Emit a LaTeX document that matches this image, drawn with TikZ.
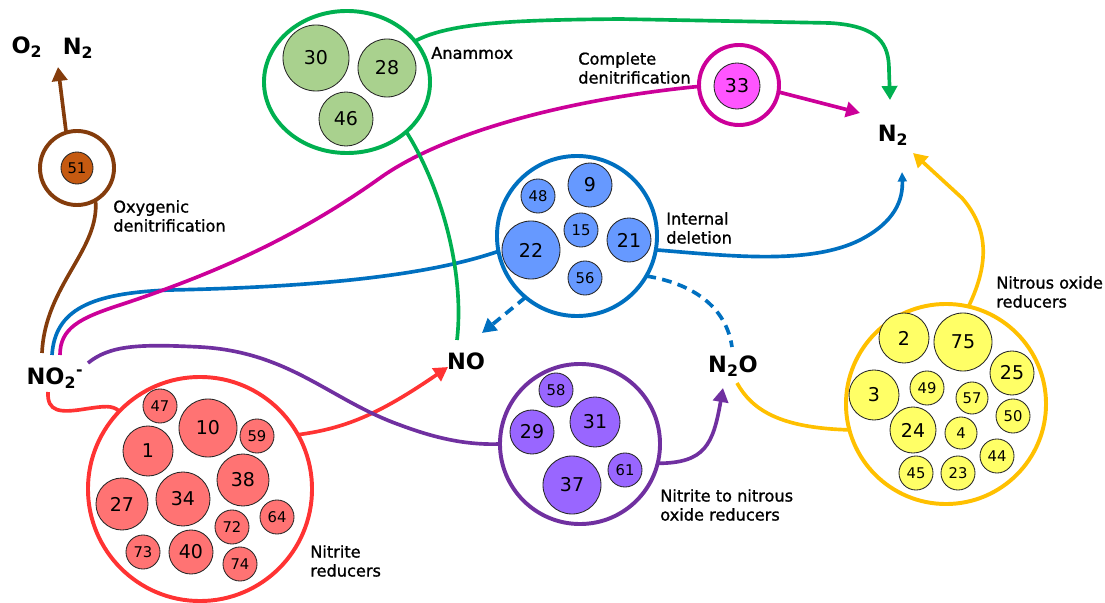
\documentclass[tikz,border=0pt]{standalone}
\usepackage{fontspec}
\setmainfont{DejaVu Sans}
\newfontfamily\lblfont[FakeBold=1.2]{DejaVu Sans}
\usepackage{tikz}
\usetikzlibrary{arrows.meta,calc,shapes.geometric}
\definecolor{BrownLine}{RGB}{132,60,12}
\definecolor{BrownFill}{RGB}{197,90,17}
\definecolor{GreenLine}{RGB}{0,176,80}
\definecolor{GreenFill}{RGB}{169,209,142}
\definecolor{MagLine}{RGB}{204,0,153}
\definecolor{MagFill}{RGB}{255,85,255}
\definecolor{BlueLine}{RGB}{0,112,192}
\definecolor{BlueFill}{RGB}{102,153,255}
\definecolor{RedLine}{RGB}{255,51,51}
\definecolor{RedFill}{RGB}{255,115,115}
\definecolor{PurpleLine}{RGB}{112,48,160}
\definecolor{PurpleFill}{RGB}{153,102,255}
\definecolor{YellowLine}{RGB}{255,192,0}
\definecolor{YellowFill}{RGB}{255,255,102}
\newcommand\numfont[1]{\ifnum#1>19 \fontsize{13.5}{15}\selectfont\else\fontsize{10.5}{12}\selectfont\fi}

\begin{document}
\begin{tikzpicture}[x=0.025cm, y=-0.025cm,
    grp/.style={circle, line width=2.8pt, outer sep=0pt, inner sep=0pt},
    bug/.style={circle, draw=black!85, line width=0.6pt, inner sep=0pt},
    flow/.style={line width=2.6pt},
    tip/.style={-{Triangle[length=3.5mm,width=3.8mm]}},
    dashflow/.style={dash pattern=on 7pt off 4.5pt},
    chem/.style={font=\fontsize{16}{18}\selectfont\bfseries, inner sep=0pt},
    lbl/.style={font=\lblfont\fontsize{11.5}{13.5}\selectfont, align=left, anchor=west, inner sep=0pt}]
  \useasboundingbox (0,0) rectangle (1105,603);

  % species
  \node[chem] (o2) at (27,47) {O\textsubscript{2}};
  \node[chem] (n2a) at (78,48) {N\textsubscript{2}};
  \node[chem] (no2) at (55,378) {NO\textsubscript{2}\textsuperscript{-}};
  \node[chem] (no) at (466,361) {NO};
  \node[chem] (n2o) at (733,366) {N\textsubscript{2}O};
  \node[chem] (n2) at (893,135) {N\textsubscript{2}};

  % guilds
  \node[grp, draw=BrownLine, minimum size=1.85cm] (oxy) at (77,168) {};
  \node[grp, ellipse, draw=GreenLine, minimum width=4.15cm, minimum height=3.55cm] (anx) at (347,82) {};
  \node[grp, draw=MagLine, minimum size=2cm] (cdn) at (739,85) {};
  \node[grp, draw=BlueLine, minimum size=4cm] (idl) at (577,236) {};
  \node[grp, draw=RedLine, minimum size=5.6cm] (nir) at (200,489) {};
  \node[grp, draw=PurpleLine, minimum size=4cm] (nnr) at (580,444) {};
  \node[grp, draw=YellowLine, minimum size=5cm] (nos) at (946,404) {};

  % genomes
  \foreach \x/\y/\r/\t in {77/168/16/51}
    \node[bug, fill=BrownFill, minimum size=\r*0.05cm, font=\numfont{\r}] (o\t) at (\x,\y) {\t};
  \foreach \x/\y/\r/\t in {316/58/33/30, 387/68/29/28, 346/119/27/46}
    \node[bug, fill=GreenFill, minimum size=\r*0.05cm, font=\numfont{\r}] (a\t) at (\x,\y) {\t};
  \foreach \x/\y/\r/\t in {737/86/23/33}
    \node[bug, fill=MagFill, minimum size=\r*0.05cm, font=\numfont{\r}] (c\t) at (\x,\y) {\t};
  \foreach \x/\y/\r/\t in {538/196/17/48, 590/185/22/9, 581/230/17/15, 531/250/29/22,
      629/240/22/21, 585/278/17/56}
    \node[bug, fill=BlueFill, minimum size=\r*0.05cm, font=\numfont{\r}] (i\t) at (\x,\y) {\t};
  \foreach \x/\y/\r/\t in {160/406/17/47, 208/428/29/10, 257/436/17/59, 148/451/25/1,
      243/480/26/38, 122/504/26/27, 183/499/27/34, 277/517/17/64, 232/527/17/72,
      143/552/17/73, 191/552/22/40, 240/564/17/74}
    \node[bug, fill=RedFill, minimum size=\r*0.05cm, font=\numfont{\r}] (r\t) at (\x,\y) {\t};
  \foreach \x/\y/\r/\t in {556/390/17/58, 532/432/22/29, 595/422/25/31, 572/485/29/37,
      625/470/17/61}
    \node[bug, fill=PurpleFill, minimum size=\r*0.05cm, font=\numfont{\r}] (p\t) at (\x,\y) {\t};
  \foreach \x/\y/\r/\t in {904/338/25/2, 963/342/29/75, 1012/373/22/25, 874/395/25/3,
      927/388/17/49, 972/398/16/57, 1013/416/17/50, 913/430/23/24, 961/433/16/4,
      997/456/17/44, 916/473/17/45, 958/473/17/23}
    \node[bug, fill=YellowFill, minimum size=\r*0.05cm, font=\numfont{\r}] (y\t) at (\x,\y) {\t};

  % labels
  \node[lbl] (oxylbl) at (113,216) {Oxygenic\\denitrification};
  \node[lbl] (anxlbl) at (431,53) {Anammox};
  \node[lbl] (cdnlbl) at (578,68) {Complete\\denitrification};
  \node[lbl] (idllbl) at (666,228) {Internal\\deletion};
  \node[lbl] (nirlbl) at (310,561) {Nitrite\\reducers};
  \node[lbl] (nnrlbl) at (660,505) {Nitrite to nitrous\\oxide reducers};
  \node[lbl] (noslbl) at (996,292) {Nitrous oxide\\reducers};

  % flows
  \draw[flow, BrownLine, tip] (oxy.107) -- ($(n2a)+(-20,19)$);
  \draw[flow, BrownLine] (oxy.-60) .. controls (100,250) and (45,285) .. ($(no2)+(-13,-25)$);
  \draw[flow, BlueLine] ($(no2)+(-3,-23)$) .. controls (55,310) and (90,293) .. (170,290)
    .. controls (320,287) and (430,275) .. (idl.191);
  \draw[flow, MagLine] ($(no2)+(5,-23)$) .. controls (60,328) and (80,318) .. (120,305)
    .. controls (220,272) and (300,235) .. (380,178) .. controls (440,135) and (560,100) .. (cdn.182);
  \draw[flow, MagLine, tip] (cdn.-10) -- ($(n2)+(-33,-22)$);
  \draw[flow, GreenLine, tip] (anx.31) .. controls (450,22) and (520,20) .. (620,19) -- (830,23)
    .. controls (880,26) and (889,45) .. (889,70) -- ($(n2)+(-3,-35)$);
  \draw[flow, GreenLine] (anx.-40) .. controls (440,185) and (465,270) .. ($(no)+(-9,-21)$);
  \draw[flow, BlueLine, -{Triangle[length=2.4mm,width=2.2mm]}] (idl.-10) .. controls (730,256) and (810,265) .. (860,240)
    .. controls (895,222) and (903,200) .. ($(n2)+(9,37)$);
  \draw[flow, BlueLine, dashflow, tip] (idl.-130) -- ($(no)+(16,-28)$);
  \draw[flow, BlueLine, dashflow] (idl.-30) .. controls (700,285) and (727,312) .. ($(n2o)+(-1,-19)$);
  \draw[flow, RedLine] ($(no2)+(-7,14)$) .. controls (47,412) and (60,413) .. (85,409)
    .. controls (105,406) and (112,405) .. (nir.136);
  \draw[flow, RedLine, tip] (nir.29) .. controls (350,428) and (385,410) .. ($(no)+(-18,6)$);
  \draw[flow, PurpleLine] ($(no2)+(33,-15)$) .. controls (110,345) and (140,344) .. (200,347)
    .. controls (290,352) and (330,400) .. (400,425) .. controls (440,440) and (470,445) .. (nnr.180);
  \draw[flow, PurpleLine, tip] (nnr.-14) .. controls (705,463) and (713,445) .. ($(n2o)+(-10,22)$);
  \draw[flow, YellowLine] ($(n2o)+(4,17)$) .. controls (752,410) and (780,428) .. (nos.195);
  \draw[flow, YellowLine, tip] (nos.77) .. controls (990,262) and (988,228) .. (962,198) -- ($(n2)+(20,18)$);
\end{tikzpicture}
\end{document}
